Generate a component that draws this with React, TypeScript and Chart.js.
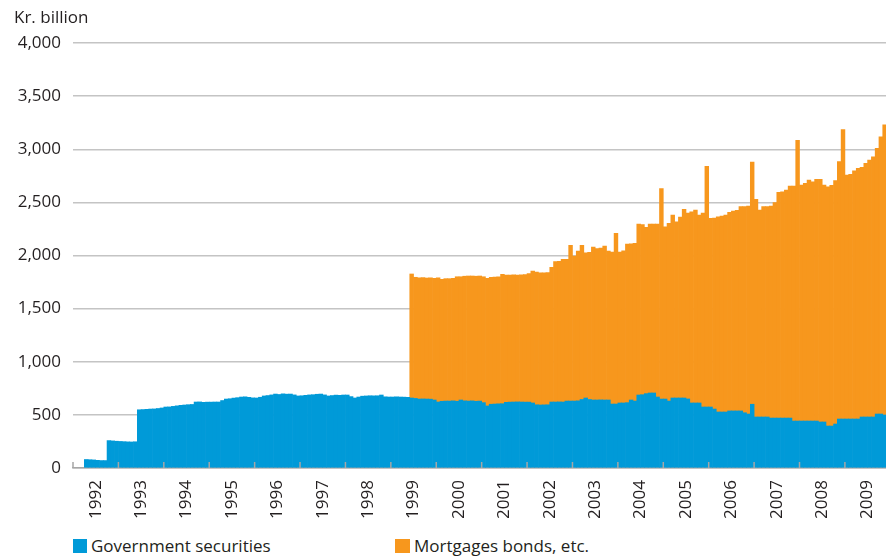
import React, { useEffect, useRef } from 'react';
import { Chart, registerables } from 'chart.js';

Chart.register(...registerables);

// ---------- DATA ----------
const FIRST_YEAR = 1992; // monthly series start in January of this year
const yearLabels = [
  '1992', '1993', '1994', '1995', '1996', '1997', '1998', '1999', '2000',
  '2001', '2002', '2003', '2004', '2005', '2006', '2007', '2008', '2009',
];
const yTickValues = [0, 500, 1000, 1500, 2000, 2500, 3000, 3500, 4000];

// Government securities, Kr. billion, monthly from Jan 1992 (one row per year)
const govSecurities: (number | null)[] = [
  null, null, null, 80, 78, 76, 72, 70, 70, 258, 255, 252, // 1992
  250, 248, 246, 245, 247, 548, 550, 552, 555, 556, 560, 565, // 1993
  574, 575, 580, 585, 590, 593, 596, 598, 621, 622, 618, 620, // 1994
  620, 621, 621, 635, 649, 652, 658, 662, 668, 670, 665, 660, // 1995
  659, 666, 678, 682, 688, 696, 692, 698, 695, 696, 688, 678, // 1996
  680, 684, 688, 690, 694, 696, 688, 678, 682, 686, 684, 687, // 1997
  687, 672, 659, 668, 676, 678, 680, 679, 680, 687, 670, 668, // 1998
  668, 670, 668, 667, 665, 659, 655, 649, 650, 649, 648, 640, // 1999
  621, 628, 630, 630, 632, 628, 640, 632, 630, 632, 628, 630, // 2000
  615, 584, 600, 602, 604, 605, 618, 620, 621, 622, 621, 620, // 2001
  620, 612, 595, 593, 594, 595, 621, 621, 622, 621, 630, 630, // 2002
  630, 632, 645, 659, 645, 640, 640, 641, 640, 640, 602, 602, // 2003
  612, 612, 615, 640, 630, 687, 690, 700, 706, 706, 668, 649, // 2004
  649, 630, 659, 659, 659, 659, 650, 612, 612, 612, 574, 574, // 2005
  574, 555, 527, 527, 527, 537, 537, 537, 537, 520, 508, 600, // 2006
  480, 480, 480, 480, 470, 470, 470, 470, 470, 470, 442, 442, // 2007
  442, 442, 442, 442, 442, 433, 433, 395, 395, 414, 461, 461, // 2008
  461, 461, 461, 461, 480, 480, 480, 480, 508, 508, 499, 510, // 2009
];

// Mortgage bonds, etc., Kr. billion, monthly (series begins June 1999)
const mortgageBondsStartIndex = 89; // months after Jan 1992 -> June 1999
const mortgageBonds: number[] = [
  1167, 1140, 1141, 1142, 1139, 1142, 1145, // Jun-Dec 1999
  1169, 1148, 1152, 1152, 1153, 1172, 1160, 1173, 1177, 1175, 1177, 1177, // 2000
  1185, 1201, 1195, 1196, 1196, 1218, 1198, 1196, 1197, 1194, 1197, 1200, // 2001
  1210, 1242, 1250, 1245, 1244, 1245, 1267, 1321, 1323, 1343, 1334, 1465, // 2002
  1365, 1410, 1450, 1367, 1385, 1440, 1424, 1429, 1449, 1402, 1431, 1606, // 2003
  1421, 1433, 1493, 1470, 1484, 1609, 1600, 1565, 1590, 1590, 1628, 1981, // 2004
  1621, 1672, 1722, 1659, 1703, 1775, 1750, 1798, 1816, 1769, 1826, 2266, // 2005
  1776, 1797, 1838, 1843, 1853, 1869, 1882, 1888, 1923, 1940, 1958, 2280, // 2006
  2048, 1948, 1980, 1980, 1996, 2027, 2124, 2130, 2146, 2184, 2212, 2643, // 2007
  2221, 2237, 2268, 2252, 2274, 2283, 2230, 2252, 2265, 2290, 2422, 2724, // 2008
  2296, 2303, 2337, 2359, 2350, 2387, 2418, 2449, 2500, 2610, 2731, 3065, // 2009
];

const X_MAX = 2009.905;

// ---------- STYLE ----------
const BLUE = '#009ad8';
const ORANGE = '#f7971d';
const TEXT = '#231f20';
const FONT = '"Open Sans", "Noto Sans", sans-serif';

function monthPoints(values: (number | null)[], startIndex: number) {
  const pts: { x: number; y: number }[] = [];
  values.forEach((v, i) => {
    if (v === null || v === undefined) return;
    pts.push({ x: FIRST_YEAR + (startIndex + i + 0.5) / 12, y: v });
  });
  return pts;
}

const yearTickMarks = {
  id: 'yearTickMarks',
  afterDatasetsDraw(chart: any) {
    const xs = chart.scales.x;
    const { ctx, chartArea } = chart;
    ctx.save();
    ctx.strokeStyle = '#a6a6a6';
    ctx.lineWidth = 1.5;
    for (let i = 0; i <= yearLabels.length; i++) {
      const px = xs.getPixelForValue(FIRST_YEAR + i);
      if (px < chartArea.left - 1 || px > chartArea.right + 1) continue;
      ctx.beginPath();
      ctx.moveTo(px, chartArea.bottom);
      ctx.lineTo(px, chartArea.bottom - 6);
      ctx.stroke();
    }
    ctx.restore();
  },
};

export default function App() {
  const canvasRef = useRef<HTMLCanvasElement | null>(null);

  useEffect(() => {
    const canvas = canvasRef.current;
    if (!canvas) return;
    const chart = new Chart(canvas, {
      type: 'bar',
      data: {
        datasets: [
          {
            label: 'Government securities',
            data: monthPoints(govSecurities, 0) as any,
            backgroundColor: BLUE,
            borderWidth: 0,
            barPercentage: 1,
            categoryPercentage: 1,
          },
          {
            label: 'Mortgages bonds, etc.',
            data: monthPoints(mortgageBonds, mortgageBondsStartIndex) as any,
            backgroundColor: ORANGE,
            borderWidth: 0,
            barPercentage: 1,
            categoryPercentage: 1,
          },
        ],
      },
      options: {
        animation: false,
        responsive: false,
        devicePixelRatio: 1,
        layout: { padding: { top: 43, left: 17, right: 0, bottom: 12 } },
        plugins: {
          legend: { display: false },
          tooltip: { enabled: false },
          title: { display: false },
        },
        scales: {
          x: {
            type: 'linear',
            stacked: true,
            min: FIRST_YEAR,
            max: X_MAX,
            offset: false,
            z: 1,
            grid: { display: false, drawTicks: false, offset: false },
            border: { display: true, color: '#a6a6a6', width: 1.5 },
            afterBuildTicks: (scale: any) => {
              scale.ticks = yearLabels.map((_, i) => ({ value: FIRST_YEAR + i + 0.5 }));
            },
            afterFit: (scale: any) => {
              scale.height = 50;
              scale.paddingLeft = 0;
              scale.paddingRight = 0;
            },
            ticks: {
              autoSkip: false,
              maxRotation: 90,
              minRotation: 90,
              padding: 12,
              color: TEXT,
              font: { family: FONT, size: 17 },
              callback: (_v: any, i: number) => yearLabels[i],
            },
          },
          y: {
            stacked: true,
            min: 0,
            max: 4000,
            afterBuildTicks: (scale: any) => {
              scale.ticks = yTickValues.map((v) => ({ value: v }));
            },
            afterFit: (scale: any) => {
              scale.width = 56;
            },
            grid: { color: '#c4c4c4', lineWidth: 1.5, drawTicks: false },
            border: { display: false },
            ticks: {
              padding: 12,
              color: TEXT,
              font: { family: FONT, size: 17 },
              callback: (v: any) => Number(v).toLocaleString('en-US'),
            },
          },
        },
      } as any,
      plugins: [yearTickMarks],
    });
    return () => chart.destroy();
  }, []);

  const textStyle: React.CSSProperties = {
    position: 'absolute',
    fontFamily: FONT,
    fontSize: 17,
    lineHeight: '20px',
    color: TEXT,
    whiteSpace: 'nowrap',
  };

  return (
    <div style={{ position: 'absolute', left: 0, top: 0, width: 886, height: 559, background: '#fff', overflow: 'hidden' }}>
      <canvas ref={canvasRef} width={886} height={530} style={{ position: 'absolute', left: 0, top: 0, width: 886, height: 530 }} />
      <div style={{ ...textStyle, left: 14, top: 7 }}>Kr. billion</div>
      <div style={{ position: 'absolute', left: 73, top: 539, width: 14, height: 14, background: BLUE }} />
      <div style={{ ...textStyle, left: 91, top: 536 }}>Government securities</div>
      <div style={{ position: 'absolute', left: 395, top: 539, width: 15, height: 14, background: ORANGE }} />
      <div style={{ ...textStyle, left: 414, top: 536 }}>Mortgages bonds, etc.</div>
    </div>
  );
}
